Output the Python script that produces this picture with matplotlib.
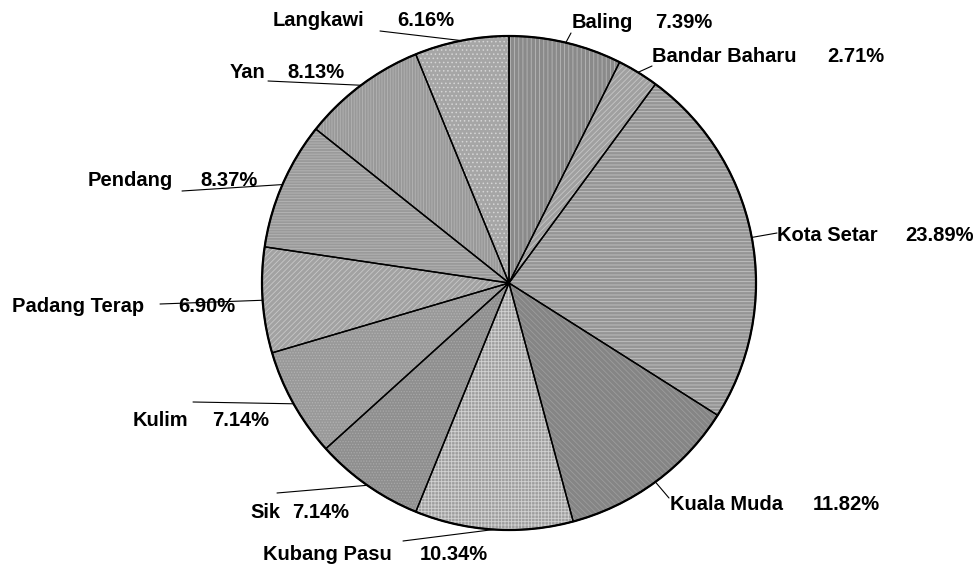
"""Kedah district share pie with hatched grey wedges."""

import matplotlib
matplotlib.use("Agg")
import matplotlib.pyplot as plt
from matplotlib.patches import Wedge, Circle
import numpy as np

districts = ["Baling", "Bandar Baharu", "Kota Setar", "Kuala Muda", "Kubang Pasu",
             "Sik", "Kulim", "Padang Terap", "Pendang", "Yan", "Langkawi"]
shares = [7.39, 2.71, 23.89, 11.82, 10.34, 7.14, 7.14, 6.90, 8.37, 8.13, 6.16]

# wedge styling (face colour, hatch colour, hatch pattern)
faces = ["#8a8a8a", "#a0a0a0", "#959595", "#858585", "#9e9e9e", "#8f8f8f",
         "#999999", "#a2a2a2", "#9a9a9a", "#999999", "#a6a6a6"]
hatch_cols = ["#b8b8b8", "#c6c6c6", "#c4c4c4", "#9c9c9c", "#d2d2d2", "#a8a8a8",
              "#b2b2b2", "#c8c8c8", "#b6b6b6", "#b4b4b4", "#d6d6d6"]
hatches = ["||||", "//////", "-----", "\\\\\\\\\\\\", "+++++", "......",
           "......", "//////", "------", "||||||", "...."]

# label layout in figure pixels: name x, pct x, text y, leader end (x, y)
W, H = 976, 573
name_x = [572, 652, 777, 670, 263, 250, 133, 12, 88, 230, 273]
pct_x = [655, 827, 905, 813, 420, 292, 212, 178, 200, 287, 397]
text_y = [22, 57, 235, 505, 555, 512, 420, 307, 180, 72, 21]
lead_end = [(571, 33), (652, 66), (777, 233), (669, 498), (403, 541), (277, 493),
            (193, 402), (160, 304), (182, 191), (268, 81), (380, 31)]

plt.rcParams["hatch.linewidth"] = 0.6
plt.rcParams["font.family"] = ["Liberation Sans", "DejaVu Sans"]

fig = plt.figure(figsize=(W / 100, H / 100), dpi=100)
ax = fig.add_axes([262 / W, 43 / H, 494 / W, 494 / H])

wedges, _ = ax.pie(shares, startangle=90, counterclock=False, radius=1.0,
                   wedgeprops=dict(linewidth=0))
for w, fc, hc, hp in zip(wedges, faces, hatch_cols, hatches):
    w.set_facecolor(fc)
    w.set_edgecolor(hc)
    w.set_hatch(hp)
    w.set_linewidth(0)
    w.set_clip_on(False)
    ax.add_patch(Wedge(w.center, w.r, w.theta1, w.theta2, fill=False,
                       edgecolor="black", linewidth=1.0, zorder=3, clip_on=False))
ax.add_patch(Circle((0, 0), 1.0, fill=False, edgecolor="black", linewidth=1.6,
                    zorder=4, clip_on=False))

ax.set_xlim(-1, 1)
ax.set_ylim(-1, 1)
ax.set_aspect("equal")
ax.axis("off")

txt = dict(fontsize=14.5, fontweight="bold", va="center", ha="left", color="black")
for w, name, share, nx_, px_, ty, (lx, ly) in zip(wedges, districts, shares, name_x,
                                                 pct_x, text_y, lead_end):
    mid = np.deg2rad((w.theta1 + w.theta2) / 2)
    ax.annotate("", xy=(np.cos(mid), np.sin(mid)), xycoords="data",
                xytext=(lx, H - ly), textcoords="figure pixels",
                arrowprops=dict(arrowstyle="-", lw=0.8, color="black",
                                shrinkA=0, shrinkB=0))
    fig.text(nx_ / W, 1 - ty / H, name, **txt)
    fig.text(px_ / W, 1 - ty / H, f"{share:.2f}%", **txt)

fig.savefig("out.png", dpi=100)
plt.close(fig)
